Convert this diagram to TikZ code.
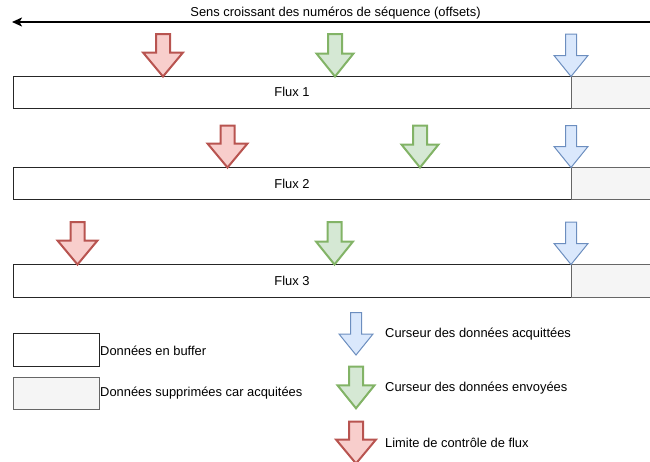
\documentclass[tikz,border=0pt]{standalone}
\usepackage{fontspec}
\setmainfont{Liberation Sans}
\usetikzlibrary{arrows.meta}

\definecolor{redfill}{HTML}{F8CECC}
\definecolor{redline}{HTML}{B85450}
\definecolor{greenfill}{HTML}{D5E8D4}
\definecolor{greenline}{HTML}{82B366}
\definecolor{bluefill}{HTML}{DAE8FC}
\definecolor{blueline}{HTML}{6C8EBF}
\definecolor{ackfill}{HTML}{F5F5F5}
\definecolor{ackline}{HTML}{666666}

\tikzset{
  % fat downward arrow, tip at the pic origin: head half-width / shaft half-width / head height / total height
  pics/fatarrow/.style args={#1/#2/#3/#4}{code={
    \draw[pic actions] (0,0) -- (-#1,-#3) -- (-#2,-#3) -- (-#2,-#4) -- (#2,-#4) -- (#2,-#3) -- (#1,-#3) -- cycle;
  }},
  limitarrow/.style={fill=redfill, draw=redline, line width=2pt},
  sentarrow/.style={fill=greenfill, draw=greenline, line width=2pt},
  ackarrow/.style={fill=bluefill, draw=blueline, line width=1pt},
  buffer/.style={draw=black!85, fill=white, line width=1pt, outer sep=0pt, inner sep=0pt,
    anchor=north west, minimum width=558pt},
  acked/.style={draw=ackline, fill=ackfill, line width=1pt, outer sep=0pt, inner sep=0pt,
    anchor=north west, minimum width=84pt},
  legendbox/.style={draw=black!85, line width=1pt, outer sep=0pt, inner sep=0pt,
    anchor=north west, minimum width=86pt, minimum height=32.5pt},
  label/.style={anchor=west, inner sep=0pt},
}

\begin{document}
\begin{tikzpicture}[x=1pt, y=-1pt, font=\fontsize{12.9}{15}\selectfont]
\useasboundingbox (0,0) rectangle (650,461);
\clip (0,0) rectangle (650,461);

% sequence-number direction
\coordinate (seqstart) at (652,22);
\coordinate (seqend) at (12,22);
\draw[line width=1.5pt, -{Stealth[length=10pt, width=9pt, inset=2.5pt]}] (seqstart) -- (seqend);
\node (seqlabel) at (335.5,13) {Sens croissant des numéros de séquence (offsets)};

% streams: buffered data and already acknowledged data
\node[buffer, minimum height=31.5pt] (f1) at (13,76.5) {Flux 1};
\node[acked, minimum height=31.5pt] (a1) at (571,76.5) {};
\node[buffer, minimum height=32pt] (f2) at (13,167.5) {Flux 2};
\node[acked, minimum height=32pt] (a2) at (571,167.5) {};
\node[buffer, minimum height=32.5pt] (f3) at (13,264.5) {Flux 3};
\node[acked, minimum height=32.5pt] (a3) at (571,264.5) {};
\draw[ackline, line width=1pt] (a1.north west) -- (a1.south west)
  (a2.north west) -- (a2.south west) (a3.north west) -- (a3.south west);

% cursors on stream 1
\pic[limitarrow] at (163,76.5) {fatarrow=20/7/24/42.5};
\pic[sentarrow] at (335,76.5) {fatarrow=18.5/7/23/42.5};
\pic[ackarrow] at (571,76.5) {fatarrow=17/5.5/21/42.5};

% cursors on stream 2
\pic[limitarrow] at (227.5,167.5) {fatarrow=20/7/24/42};
\pic[sentarrow] at (420,167.5) {fatarrow=18.5/7/23/42};
\pic[ackarrow] at (571,167.5) {fatarrow=17/5.5/21/42};

% cursors on stream 3
\pic[limitarrow] at (77.5,264.5) {fatarrow=20/7/24/42.5};
\pic[sentarrow] at (334.5,264.5) {fatarrow=18.5/7/23/42.5};
\pic[ackarrow] at (571,264.5) {fatarrow=17/5.5/21/42.5};

% legend: boxes
\node[legendbox, fill=white] (lbuf) at (13,333.5) {};
\node[label] (tbuf) at (100,351) {Données en buffer};
\node[legendbox, fill=ackfill, draw=ackline, minimum height=32pt] (lack) at (13,377.5) {};
\node[label] (tack) at (100,393.5) {Données supprimées car acquitées};

% legend: cursors
\pic[ackarrow] at (356,355) {fatarrow=17/5.5/21/42.3};
\node[label] (tcack) at (385,334) {Curseur des données acquittées};
\pic[sentarrow] at (356,408.3) {fatarrow=18.5/7/23/41.6};
\node[label] (tcsent) at (385,388) {Curseur des données envoyées};
\pic[limitarrow] at (356,463.5) {fatarrow=20/7/24/42};
\node[label] (tlimit) at (385,442.5) {Limite de contrôle de flux};
\end{tikzpicture}
\end{document}
